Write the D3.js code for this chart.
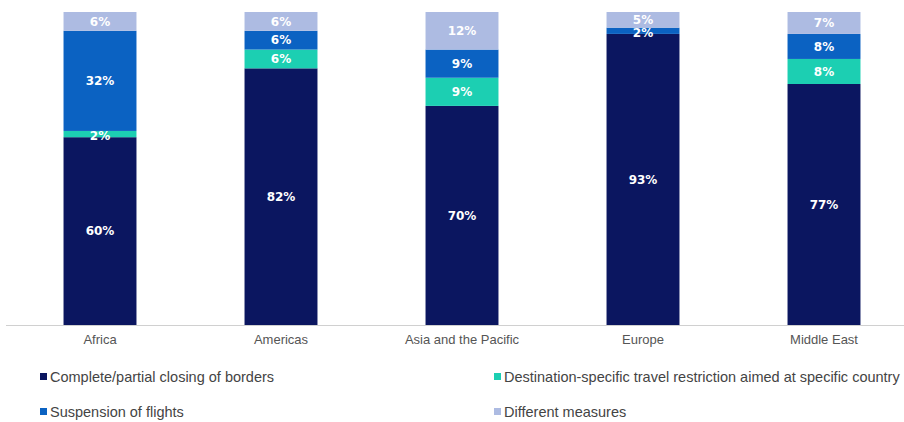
<!DOCTYPE html>
<html>
<head>
<meta charset="utf-8">
<script src="https://cdn.jsdelivr.net/npm/d3@7"></script>
<style>
  body { margin: 0; background: #fff; }
  svg { display: block; }
</style>
</head>
<body>
<div class="chart"></div>
<script>
// regions and the share of each measure (in %)
var regions = ["Africa", "Americas", "Asia and the Pacific", "Europe", "Middle East"];
var closing = [60, 82, 70, 93, 77];
var destination = [2, 6, 9, 0, 8];
var suspension = [32, 6, 9, 2, 8];
var different = [6, 6, 12, 5, 7];

var seriesNames = ["Complete/partial closing of borders",
                   "Destination-specific travel restriction aimed at specific country",
                   "Suspension of flights",
                   "Different measures"];
var colors = ["#0b1660", "#1ccfb2", "#0b62c2", "#adbbe2"];

var width = 904, height = 422;
var baseline = 325, top_y = 12;

var table = regions.map(function(r, i) {
  return { region: r, s0: closing[i], s1: destination[i], s2: suspension[i], s3: different[i] };
});

var stack = d3.stack().keys(["s0", "s1", "s2", "s3"]);
var layers = stack(table);

var x = d3.scaleBand().domain(regions).range([9.5, 914.5])
  .paddingInner(0.597).paddingOuter(0.2985);
var y = d3.scaleLinear().domain([0, 100]).range([baseline, top_y]);

var svg = d3.select(".chart").append("svg")
  .attr("width", width)
  .attr("height", height);

var groups = svg.selectAll(".layer")
  .data(layers)
  .enter().append("g")
  .attr("class", "layer")
  .attr("fill", function(d, i) { return colors[i]; });

groups.selectAll("rect")
  .data(function(d) { return d; })
  .enter().append("rect")
  .attr("x", function(d) { return x(d.data.region); })
  .attr("width", x.bandwidth())
  .attr("y", function(d) { return y(d[1]); })
  .attr("height", function(d) { return y(d[0]) - y(d[1]); });

// value labels (tiny segments pushed down a little, like the original)
groups.selectAll("text")
  .data(function(d) { return d.filter(function(p) { return p[1] - p[0] > 0; }); })
  .enter().append("text")
  .attr("x", function(d) { return x(d.data.region) + x.bandwidth() / 2; })
  .attr("y", function(d) {
    var mid = (y(d[0]) + y(d[1])) / 2;
    return (d[1] - d[0]) < 3 ? mid + 2 : mid;
  })
  .attr("dy", "0.36em")
  .attr("text-anchor", "middle")
  .attr("fill", "#fff")
  .attr("font-family", "'DejaVu Sans', sans-serif")
  .attr("font-weight", "bold")
  .attr("font-size", "12px")
  .text(function(d) { return (d[1] - d[0]) + "%"; });

// x axis
var xAxis = svg.append("g")
  .attr("transform", "translate(0," + (baseline + 0.5) + ")")
  .call(d3.axisBottom(x).tickSize(0).tickPadding(9));
xAxis.select(".domain").attr("d", "M6,0H904").attr("stroke", "#d0d0d0");
xAxis.selectAll("text")
  .attr("fill", "#555")
  .attr("font-family", "'Liberation Sans', Arial, sans-serif")
  .attr("font-size", "13px");

// legend
var legendPos = [[40, 377], [494, 377], [40, 412], [494, 412]];
var legend = svg.selectAll(".legend")
  .data(seriesNames)
  .enter().append("g")
  .attr("class", "legend")
  .attr("transform", function(d, i) { return "translate(" + legendPos[i][0] + "," + legendPos[i][1] + ")"; });

legend.append("rect")
  .attr("x", 0).attr("y", -4)
  .attr("width", 7).attr("height", 7)
  .attr("fill", function(d, i) { return colors[i]; });

legend.append("text")
  .attr("x", 10)
  .attr("dy", "0.35em")
  .attr("fill", "#444")
  .attr("font-family", "'Liberation Sans', Arial, sans-serif")
  .attr("font-size", "14.5px")
  .text(function(d) { return d; });
</script>
</body>
</html>
